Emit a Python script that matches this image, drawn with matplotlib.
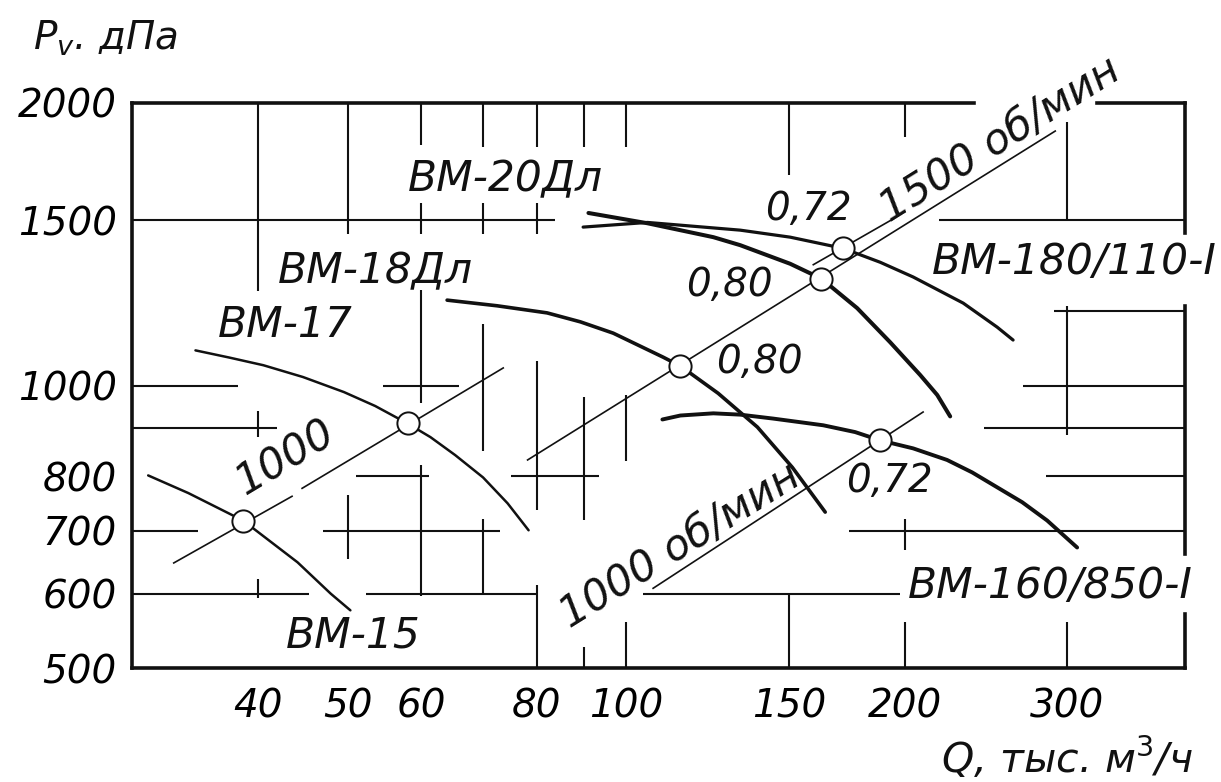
import matplotlib
matplotlib.use("Agg")
import matplotlib.pyplot as plt
from matplotlib.ticker import FixedLocator, NullLocator

# axis ranges: Q in thousand m3/h, Pv in daPa (log-log chart)
Q_LIM = (29.2, 402)
P_LIM = (500, 2000)
Q_TICKS = [40, 50, 60, 80, 100, 150, 200, 300]
P_TICKS = [500, 600, 700, 800, 1000, 1500, 2000]

# fan characteristics
vm15_q = [30.4, 33.6, 38.5, 44.1, 47.9, 50.3]
vm15_p = [802, 768, 718, 648, 600, 576]
vm17_q = [34.2, 37.2, 40.5, 44.7, 49.5, 53.5, 58.0, 61.4, 65.3, 70.0, 74.4, 78.4]
vm17_p = [1090, 1071, 1051, 1021, 984, 951, 911, 881, 843, 798, 749, 701]
vm18_q = [64.0, 72.5, 82.1, 89.2, 96.8, 109.6, 114.4, 125.7, 138.6, 151.2, 164.1]
vm18_p = [1233, 1216, 1195, 1169, 1137, 1072, 1049, 981, 903, 818, 733]
vm20_q = [91.0, 105.4, 124.2, 132.8, 150.4, 162.5, 177.7, 192.9, 207.9, 216.9, 224.0]
vm20_p = [1527, 1489, 1439, 1411, 1348, 1300, 1209, 1112, 1026, 977, 927]
vm180_q = [89.8, 105.4, 132.8, 150.4, 171.6, 188.2, 204.3, 231.4, 251.8, 262.0]
vm180_p = [1475, 1492, 1464, 1439, 1400, 1353, 1305, 1224, 1154, 1118]
vm160_q = [109.4, 114.4, 124.2, 132.8, 144.2, 163.3, 176.8, 188.2, 204.3, 222.3,
           236.6, 251.8, 268.0, 285.2, 307.3]
vm160_p = [920, 929, 934, 931, 922, 907, 892, 874, 857, 833, 808, 779, 751, 718, 672]

# constant-speed lines
rpm1000a_q = [[32.4, 43.5], [44.6, 73.6]]
rpm1000a_p = [[647, 762], [777, 1044]]
rpm1500_q = [78.2, 291]
rpm1500_p = [833, 1867]
rpm1000b_q = [106.9, 209.4]
rpm1000b_p = [608, 937]
eff072_q = [159.3, 194.4]
eff072_p = [1345, 1505]

# operating points (circles)
pt_q = [38.5, 58.0, 114.4, 162.5, 171.6, 188.2]
pt_p = [718, 911, 1049, 1300, 1400, 874]

# broken grid lines as drawn: (level, start, end)
hgrid = [(1500, 29.2, 83.7), (1500, 217.6, 402), (1200, 290, 402),
         (1000, 29.2, 38.0), (1000, 54.6, 66.0), (1000, 268.8, 402),
         (900, 29.2, 41.9), (900, 243.4, 402),
         (800, 51.0, 61.2), (800, 75.0, 93.4), (800, 284.1, 402),
         (700, 29.2, 34.4), (700, 47.0, 73.0), (700, 174.0, 402),
         (600, 29.2, 45.4), (600, 52.3, 80), (600, 104.3, 197.5)]
vgrid = [(40, 1260, 2000), (40, 882, 940), (40, 594, 622),
         (50, 1452, 2000), (50, 653, 764),
         (60, 1804, 2000), (60, 1452, 1563), (60, 957, 1263), (60, 596, 822),
         (70, 1795, 2000), (70, 1452, 1563), (70, 852, 1164), (70, 598, 721),
         (80, 1795, 2000), (80, 1452, 1563), (80, 737, 1063), (80, 500, 613),
         (90, 1795, 2000), (90, 719, 973), (90, 500, 526),
         (100, 1795, 2000), (100, 830, 976), (100, 500, 560),
         (150, 1676, 2000), (150, 500, 600),
         (200, 1840, 2000), (200, 668, 721), (200, 500, 560),
         (300, 1500, 1908), (300, 885, 1214), (300, 500, 560)]
frame_h = [(2000, 29.2, 237.6), (2000, 322.5, 402), (500, 29.2, 402)]
frame_v = [(29.2, 500, 2000), (402, 1453, 2000), (402, 662, 1214), (402, 500, 571)]

INK = "#111111"
FS = 28      # tick labels, efficiencies
FS_BIG = 30.5  # fan names, speed labels
plt.rcParams.update({"font.family": "DejaVu Sans", "mathtext.fontset": "dejavusans"})

fig = plt.figure(figsize=(12.21, 7.82), dpi=100)
ax = fig.add_axes([132 / 1221, 1 - 668 / 782, 1053 / 1221, 565 / 782])
ax.set_xscale("log"); ax.set_yscale("log")
ax.set_xlim(*Q_LIM); ax.set_ylim(*P_LIM)
for s in ax.spines.values():
    s.set_visible(False)

for y, x0, x1 in hgrid:
    ax.plot([x0, x1], [y, y], color=INK, lw=1.5, solid_capstyle="butt", zorder=1)
for x, y0, y1 in vgrid:
    ax.plot([x, x], [y0, y1], color=INK, lw=1.5, solid_capstyle="butt", zorder=1)
for y, x0, x1 in frame_h:
    ax.plot([x0, x1], [y, y], color=INK, lw=2.6, solid_capstyle="projecting", clip_on=False, zorder=2)
for x, y0, y1 in frame_v:
    ax.plot([x, x], [y0, y1], color=INK, lw=2.6, solid_capstyle="projecting", clip_on=False, zorder=2)

# speed lines
for qs, ps in zip(rpm1000a_q, rpm1000a_p):
    ax.plot(qs, ps, color=INK, lw=1.2, zorder=3)
ax.plot(rpm1500_q, rpm1500_p, color=INK, lw=1.2, zorder=3)
ax.plot(rpm1000b_q, rpm1000b_p, color=INK, lw=1.2, zorder=3)
ax.plot(eff072_q, eff072_p, color=INK, lw=1.2, zorder=3)

# fan curves
curve = dict(color=INK, zorder=4, solid_joinstyle="round", solid_capstyle="round")
ax.plot(vm15_q, vm15_p, lw=1.8, **curve)
ax.plot(vm17_q, vm17_p, lw=1.8, **curve)
ax.plot(vm18_q, vm18_p, lw=2.6, **curve)
ax.plot(vm20_q, vm20_p, lw=2.9, **curve)
ax.plot(vm180_q, vm180_p, lw=2.3, **curve)
ax.plot(vm160_q, vm160_p, lw=2.8, **curve)
ax.plot(pt_q, pt_p, ls="none", marker="o", ms=16, mfc="white", mec=INK, mew=1.4, zorder=5)

# ticks
ax.xaxis.set_major_locator(FixedLocator(Q_TICKS)); ax.xaxis.set_minor_locator(NullLocator())
ax.yaxis.set_major_locator(FixedLocator(P_TICKS)); ax.yaxis.set_minor_locator(NullLocator())
ax.set_xticklabels([str(v) for v in Q_TICKS])
ax.set_yticklabels([str(v) for v in P_TICKS])
ax.tick_params(axis="x", length=0, pad=14, labelsize=FS)
ax.tick_params(axis="y", length=0, pad=11, labelsize=FS)
for lbl in ax.get_xticklabels() + ax.get_yticklabels():
    lbl.set_fontstyle("italic")

txt = dict(style="italic", color=INK, ha="center", va="center", zorder=6)
ax.text(74.0, 1660, "ВМ-20Дл", fontsize=FS_BIG, **txt)
ax.text(53.5, 1325, "ВМ-18Дл", fontsize=FS_BIG, **txt)
ax.text(42.8, 1160, "ВМ-17", fontsize=FS_BIG, **txt)
ax.text(50.7, 542, "ВМ-15", fontsize=FS_BIG, **txt)
ax.text(305.0, 1353, "ВМ-180/110-I", fontsize=FS_BIG, **txt)
ax.text(287.3, 612, "ВМ-160/850-I", fontsize=FS_BIG, **txt)
ax.text(157.3, 1542, "0,72", fontsize=FS, **txt)
ax.text(129.2, 1279, "0,80", fontsize=FS, **txt)
ax.text(139.3, 1059, "0,80", fontsize=FS, **txt)
ax.text(192.4, 791, "0,72", fontsize=FS, **txt)
ax.text(42.8, 839, "1000", rotation=31, fontsize=FS_BIG, clip_on=False, **txt)
ax.text(253.7, 1829, "1500 об/мин", rotation=32, fontsize=FS_BIG, clip_on=False, **txt)
ax.text(114.4, 676, "1000 об/мин", rotation=32, fontsize=FS_BIG, **txt)

fig.text(33 / 1221, 1 - 50 / 782, r"$P_v$. дПа", fontsize=FS, style="italic", color=INK,
         ha="left", va="baseline")
fig.text(1193 / 1221, 1 - 773 / 782, r"Q, тыс. м$^3$/ч", fontsize=29.5, style="italic", color=INK,
         ha="right", va="baseline")

fig.savefig("out.png", dpi=100, facecolor="white")
